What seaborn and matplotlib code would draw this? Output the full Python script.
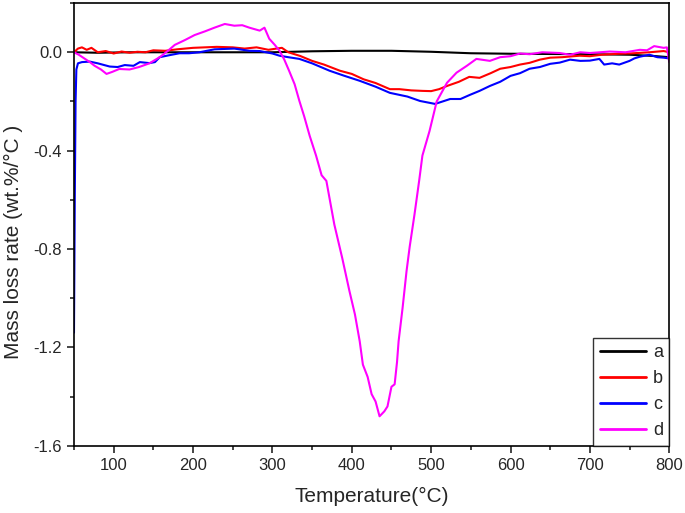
import numpy as np
import pandas as pd
import seaborn as sns
import matplotlib.pyplot as plt
from matplotlib.ticker import MultipleLocator

# curve a (black)
temp_a = [50, 80, 120, 200, 300, 350, 400, 450, 500, 550, 600, 650, 700, 750, 780, 800]
rate_a = [0.0, -0.002, 0.0, 0.0, 0.0, 0.004, 0.006, 0.006, 0.002, -0.004, -0.006, -0.007, -0.008, -0.01, -0.015, -0.02]

# curve b (red)
temp_b = [50, 55, 60, 66, 72, 80, 90, 100, 110, 120, 130, 140, 150, 165, 180, 200, 215, 230, 250, 265,
          280, 295, 305, 312, 320, 335, 350, 365, 385, 400, 415, 430, 448, 460, 475, 489, 500, 510,
          520, 535, 548, 561, 575, 587, 600, 612, 624, 637, 650, 665, 687, 700, 715, 737, 755, 775, 793, 800]
rate_b = [0.0, 0.015, 0.02, 0.01, 0.018, 0.0, 0.005, -0.005, 0.003, -0.002, 0.002, 0.0, 0.008, 0.006, 0.012, 0.018, 0.02, 0.022, 0.02, 0.015,
          0.02, 0.01, 0.015, 0.018, 0.0, -0.015, -0.035, -0.05, -0.075, -0.088, -0.11, -0.125, -0.15, -0.15, -0.155, -0.157, -0.158, -0.15,
          -0.137, -0.12, -0.1, -0.104, -0.085, -0.067, -0.06, -0.05, -0.043, -0.03, -0.022, -0.02, -0.014, -0.016, -0.01, -0.006, -0.004, 0.0, 0.005, 0.0]

# curve c (blue)
temp_c = [50, 51, 52, 53, 55, 60, 70, 80, 95, 105, 114, 125, 133, 145, 152, 158, 170, 183, 195, 208, 227,
          252, 271, 284, 300, 309, 320, 334, 350, 372, 390, 410, 430, 448, 470, 486, 505, 524, 537, 549,
          561, 574, 587, 600, 612, 624, 637, 650, 662, 675, 688, 700, 712, 718, 728, 737, 750, 756, 763, 775, 785, 793, 800]
rate_c = [-1.14, -0.6, -0.2, -0.07, -0.045, -0.04, -0.038, -0.045, -0.058, -0.06, -0.052, -0.055, -0.04, -0.044, -0.04, -0.02, -0.012, -0.004, -0.004, 0.0, 0.012,
          0.015, 0.006, 0.005, -0.005, -0.014, -0.02, -0.027, -0.045, -0.075, -0.095, -0.116, -0.14, -0.165, -0.18, -0.198, -0.21, -0.19, -0.19, -0.173,
          -0.157, -0.137, -0.12, -0.096, -0.085, -0.067, -0.06, -0.047, -0.042, -0.03, -0.035, -0.034, -0.027, -0.05, -0.045, -0.05, -0.035, -0.025, -0.018, -0.01, -0.02, -0.022, -0.025]

# curve d (magenta)
temp_d = [50, 56, 63, 70, 76, 84, 91, 98, 107, 120, 132, 145, 158, 168, 177, 190, 202, 215, 227, 240,
          252, 262, 271, 284, 290, 296, 303, 309, 315, 321, 328, 334, 340, 347, 355, 362, 368, 378, 388,
          397, 404, 410, 414, 420, 425, 430, 435, 438, 441, 445, 450, 454, 457, 459, 464, 469, 473, 479,
          485, 489, 498, 507, 520, 532, 545, 557, 574, 587, 600, 612, 624, 640, 662, 675, 688, 700, 725,
          745, 763, 772, 781, 793, 797, 800]
rate_d = [0.0, -0.01, -0.025, -0.04, -0.055, -0.07, -0.088, -0.08, -0.068, -0.07, -0.06, -0.045, -0.02, 0.005, 0.03, 0.05, 0.07, 0.085, 0.1, 0.115,
          0.108, 0.11, 0.1, 0.088, 0.1, 0.055, 0.03, 0.006, -0.03, -0.075, -0.13, -0.198, -0.26, -0.34, -0.42, -0.5, -0.523, -0.7, -0.837,
          -0.97, -1.066, -1.175, -1.27, -1.32, -1.39, -1.42, -1.48, -1.47, -1.46, -1.44, -1.36, -1.35, -1.26, -1.175, -1.04, -0.89, -0.79, -0.66,
          -0.52, -0.42, -0.32, -0.2, -0.124, -0.083, -0.055, -0.027, -0.035, -0.02, -0.016, -0.005, -0.008, 0.0, -0.003, -0.01, 0.0, -0.003, 0.003,
          0.0, 0.01, 0.008, 0.025, 0.018, 0.02, -0.04]

labels = ["a", "b", "c", "d"]
colors = ["black", "red", "blue", "magenta"]

frames = []
for lab, t, r in zip(labels, [temp_a, temp_b, temp_c, temp_d], [rate_a, rate_b, rate_c, rate_d]):
    frames.append(pd.DataFrame({"T": t, "rate": r, "sample": lab}))
df = pd.concat(frames, ignore_index=True)

sns.set_style("white")
plt.rcParams['font.family'] = ['Liberation Sans', 'DejaVu Sans']

fig = plt.figure(figsize=(6.85, 5.13), dpi=100)
ax = fig.add_axes([0.108, 0.131, 0.869, 0.863])
sns.lineplot(data=df, x="T", y="rate", hue="sample", palette=colors, sort=False,
             estimator=None, linewidth=1.5, ax=ax)

ax.set_xlim(50, 800)
ax.set_ylim(-1.6, 0.2)
ax.xaxis.set_minor_locator(MultipleLocator(50))
ax.yaxis.set_minor_locator(MultipleLocator(0.2))
ax.set_xticks([100, 200, 300, 400, 500, 600, 700, 800])
ax.set_yticks([0.0, -0.4, -0.8, -1.2, -1.6])
ax.set_yticklabels(["0.0", "-0.4", "-0.8", "-1.2", "-1.6"])
ax.tick_params(which="major", direction="out", length=5, width=1.2, labelsize=12, left=True, bottom=True)
ax.tick_params(which="minor", direction="out", length=3, width=1.2, left=True, bottom=True)
for s in ax.spines.values():
    s.set_color("black")
    s.set_linewidth(1.2)

ax.set_xlabel("Temperature(°C)", fontsize=15, labelpad=10)
ax.set_ylabel("Mass loss rate (wt.%/°C )", fontsize=15)
ax.yaxis.set_label_coords(-0.085, 0.46)

leg = ax.legend(loc="lower right", fontsize=13, frameon=True, fancybox=False,
                borderaxespad=0, borderpad=0.35, handlelength=2.6, labelspacing=0.5,
                handletextpad=0.35)
leg.get_frame().set_edgecolor("black")
leg.get_frame().set_linewidth(1.0)
for line in leg.get_lines():
    line.set_linewidth(2)

fig.savefig("out.png", dpi=100)
